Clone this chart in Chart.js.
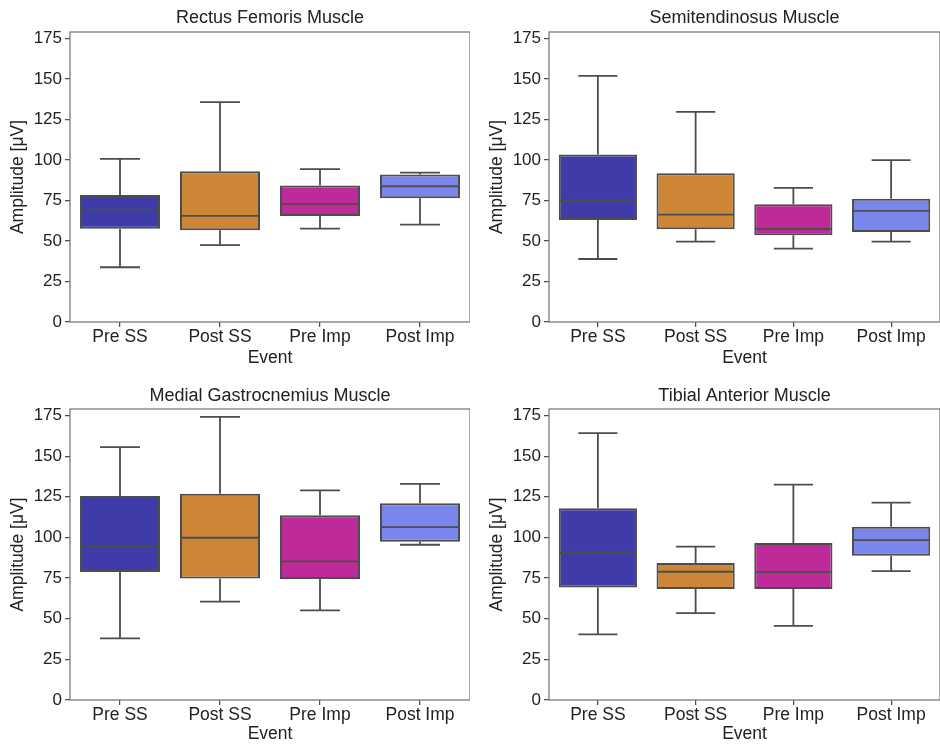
<!DOCTYPE html>
<html>
<head>
<meta charset="utf-8">
<script src="https://cdn.jsdelivr.net/npm/chart.js@4.4.1/dist/chart.umd.min.js"></script>
<style>
  body { margin: 0; background: #fff; }
  .panel { position: absolute; width: 470px; height: 373px; }
</style>
</head>
<body>
<div class="panel" style="left:0;top:0"><canvas id="rf" width="470" height="373"></canvas></div>
<div class="panel" style="left:470px;top:0"><canvas id="st" width="470" height="373"></canvas></div>
<div class="panel" style="left:0;top:373px"><canvas id="mg" width="470" height="373"></canvas></div>
<div class="panel" style="left:470px;top:373px"><canvas id="ta" width="470" height="373"></canvas></div>
<script>
const events = ['Pre SS', 'Post SS', 'Pre Imp', 'Post Imp'];
const boxColors = ['#3f3ca9', '#cc8636', '#be2a97', '#7a86eb'];
const yTicks = [0, 25, 50, 75, 100, 125, 150, 175];

// Rectus Femoris
const rfLow = [33.8, 47.4, 57.6, 60.1];
const rfQ1 = [57.6, 56.6, 65.5, 76.4];
const rfMed = [69.4, 65.5, 72.9, 83.8];
const rfQ3 = [78.4, 93.1, 84.2, 91.0];
const rfHigh = [100.7, 135.7, 94.3, 92.2];

// Semitendinosus
const stLow = [38.9, 49.6, 45.3, 49.6];
const stQ1 = [63.0, 57.2, 53.5, 55.6];
const stMed = [75.1, 66.3, 57.4, 68.6];
const stQ3 = [103.4, 91.8, 72.7, 76.0];
const stHigh = [151.9, 129.7, 82.8, 99.9];

// Medial Gastrocnemius
const mgLow = [37.9, 60.5, 55.1, 95.5];
const mgQ1 = [78.7, 74.8, 74.5, 97.3];
const mgMed = [94.2, 99.8, 85.3, 106.4];
const mgQ3 = [125.5, 126.9, 113.7, 121.1];
const mgHigh = [155.5, 174.2, 129.0, 132.9];

// Tibial Anterior
const taLow = [40.4, 53.4, 45.6, 79.3];
const taQ1 = [69.2, 68.3, 68.3, 88.7];
const taMed = [90.7, 78.9, 78.7, 98.3];
const taQ3 = [118.0, 84.3, 96.5, 106.6];
const taHigh = [164.2, 94.4, 132.5, 121.4];

const FONT = 'Liberation Sans, Arial, sans-serif';
const LINE = '#4d4d4d';

// whiskers, medians, frame and title drawn on top of the floating bars
const boxExtras = {
  id: 'boxExtras',
  afterDatasetsDraw(chart) {
    const o = chart.options.plugins.boxExtras;
    const ctx = chart.ctx;
    const y = chart.scales.y;
    const meta = chart.getDatasetMeta(0);
    ctx.save();
    ctx.strokeStyle = LINE;
    ctx.lineWidth = 1.8;
    meta.data.forEach((bar, i) => {
      const x = bar.x, w = bar.width;
      const yq1 = y.getPixelForValue(o.q1[i]);
      const yq3 = y.getPixelForValue(o.q3[i]);
      const ylo = y.getPixelForValue(o.low[i]);
      const yhi = y.getPixelForValue(o.high[i]);
      const ymed = y.getPixelForValue(o.med[i]);
      ctx.beginPath();
      ctx.moveTo(x, yq3); ctx.lineTo(x, yhi);
      ctx.moveTo(x - w / 4, yhi); ctx.lineTo(x + w / 4, yhi);
      ctx.moveTo(x, yq1); ctx.lineTo(x, ylo);
      ctx.moveTo(x - w / 4, ylo); ctx.lineTo(x + w / 4, ylo);
      ctx.moveTo(x - w / 2 + 1, ymed); ctx.lineTo(x + w / 2 - 1, ymed);
      ctx.stroke();
    });
    const a = chart.chartArea;
    ctx.strokeStyle = '#777';
    ctx.lineWidth = 1.25;
    ctx.strokeRect(a.left, a.top, a.right - a.left, a.bottom - a.top);
    ctx.fillStyle = '#222';
    ctx.font = '18px ' + FONT;
    ctx.textAlign = 'center';
    ctx.textBaseline = 'middle';
    ctx.fillText(o.title, (a.left + a.right) / 2, o.titleY);
    ctx.restore();
  }
};

function makePanel(id, title, low, q1, med, q3, high, p) {
  new Chart(document.getElementById(id), {
    type: 'bar',
    data: {
      labels: events,
      datasets: [{
        data: q1.map((v, i) => [v, q3[i]]),
        backgroundColor: boxColors,
        borderColor: LINE,
        borderWidth: 2,
        borderSkipped: false,
        barPercentage: 0.8,
        categoryPercentage: 1.0
      }]
    },
    options: {
      responsive: false,
      animation: false,
      devicePixelRatio: 1,
      layout: { padding: { top: p.top, right: 0, left: 0, bottom: 0 } },
      plugins: {
        legend: { display: false },
        tooltip: { enabled: false },
        boxExtras: { title, titleY: p.titleY, low, q1, med, q3, high }
      },
      scales: {
        x: {
          grid: { offset: false, drawOnChartArea: false, drawTicks: true, tickLength: 5, color: LINE, lineWidth: 1.25 },
          border: { display: false },
          ticks: { color: '#222', font: { family: FONT, size: 17.5 }, padding: 0 },
          title: { display: true, text: 'Event', color: '#222', font: { family: FONT, size: 17.5 }, padding: { top: 0, bottom: p.xTitlePad } },
          afterFit(s) { s.height = p.xHeight; }
        },
        y: {
          min: 0,
          max: 179,
          afterBuildTicks(s) { s.ticks = yTicks.map(v => ({ value: v })); },
          grid: { drawOnChartArea: false, drawTicks: true, tickLength: 5, color: LINE, lineWidth: 1.25 },
          border: { display: false },
          ticks: { color: '#222', font: { family: FONT, size: 17 }, padding: 3 },
          title: { display: true, text: 'Amplitude [μV]', color: '#222', font: { family: FONT, size: 17.5 }, padding: { top: p.yTitlePad, bottom: 0 } },
          afterFit(s) { s.width = p.yWidth; }
        }
      }
    },
    plugins: [boxExtras]
  });
}

makePanel('rf', 'Rectus Femoris Muscle', rfLow, rfQ1, rfMed, rfQ3, rfHigh,
  { top: 32, titleY: 18.5, xHeight: 51, xTitlePad: 4.5, yWidth: 70, yTitlePad: 8 });
makePanel('st', 'Semitendinosus Muscle', stLow, stQ1, stMed, stQ3, stHigh,
  { top: 32, titleY: 18.5, xHeight: 51, xTitlePad: 4.5, yWidth: 79, yTitlePad: 17 });
makePanel('mg', 'Medial Gastrocnemius Muscle', mgLow, mgQ1, mgMed, mgQ3, mgHigh,
  { top: 36, titleY: 23, xHeight: 46, xTitlePad: 1, yWidth: 70, yTitlePad: 8 });
makePanel('ta', 'Tibial Anterior Muscle', taLow, taQ1, taMed, taQ3, taHigh,
  { top: 36, titleY: 23, xHeight: 46, xTitlePad: 1, yWidth: 79, yTitlePad: 17 });
</script>
</body>
</html>
